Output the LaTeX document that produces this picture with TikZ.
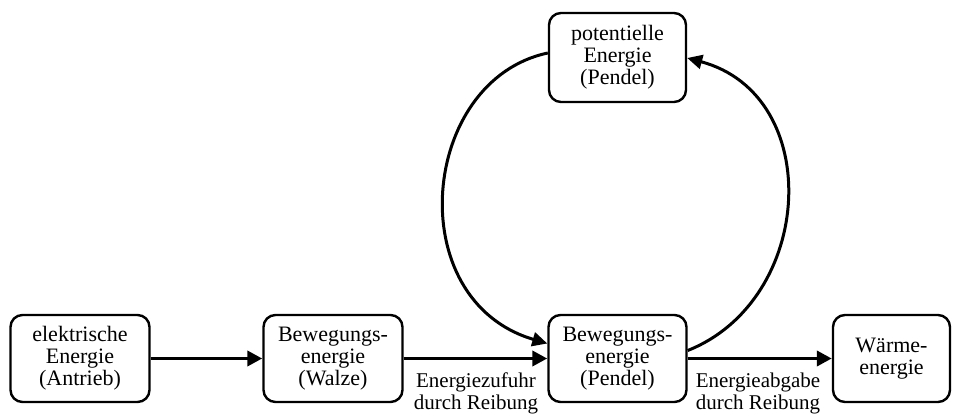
\documentclass[tikz,border=0pt]{standalone}
\usepackage{fontspec}
\setmainfont{Liberation Serif}
\usetikzlibrary{arrows.meta}
\begin{document}
\begin{tikzpicture}[x=1pt,y=-1pt,
  box/.style={draw, line width=2.4pt, rounded corners=12pt, align=center,
    minimum height=87pt, inner sep=0pt,
    font=\fontsize{22}{22}\selectfont},
  flow/.style={line width=3.8pt, -{Triangle[length=15pt,width=15pt]}},
  loop/.style={line width=3pt, -{Triangle[length=15pt,width=14pt]}},
  lbl/.style={align=center, inner sep=0pt, font=\fontsize{21}{22}\selectfont}]
  \useasboundingbox (0,0) rectangle (961,414);

  % energy forms
  \node[box, minimum width=139pt] (elek) at (80,358.5) {elektrische\\Energie\\(Antrieb)};
  \node[box, minimum width=139pt] (walze) at (333,358.5) {Bewegungs-\\energie\\(Walze)};
  \node[box, minimum width=138pt] (pendel) at (617.5,358.5) {Bewegungs-\\energie\\(Pendel)};
  \node[box, minimum width=117pt] (waerme) at (891.5,358.5) {Wärme-\\energie};
  \node[box, minimum width=137pt, minimum height=89pt] (pot) at (617.5,57.5) {potentielle\\Energie\\(Pendel)};

  % main energy chain
  \draw[flow] (elek.east) -- (walze.west);
  \draw[flow] (walze.east) -- (pendel.west);
  \draw[flow] (pendel.east) -- (waerme.west);

  % pendulum oscillation between kinetic and potential energy
  \draw[loop] ([yshift=4.5pt]pot.west) .. controls (420,80) and (400,300) .. ([yshift=15pt]pendel.west);
  \draw[loop] ([yshift=8pt]pendel.east) .. controls (815,300) and (825,95) .. ([yshift=-0.5pt]pot.east);

  % transfer labels
  \node[lbl] (zufuhr) at (476,393) {Energiezufuhr\\durch Reibung};
  \node[lbl] (abgabe) at (758,393) {Energieabgabe\\durch Reibung};
\end{tikzpicture}
\end{document}
